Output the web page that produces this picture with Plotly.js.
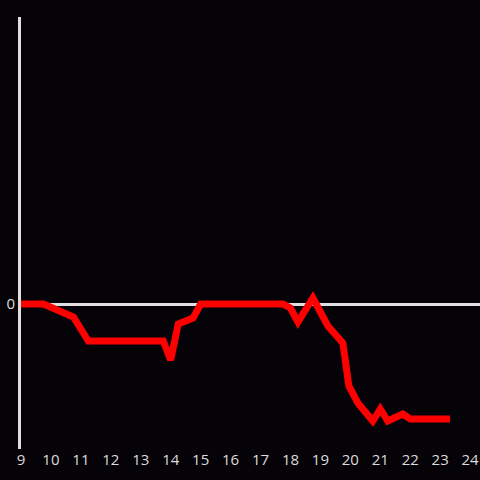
<!DOCTYPE html>
<html><head><meta charset="utf-8">
<script src="https://cdn.plot.ly/plotly-3.0.1.min.js"></script>
<style>html,body{margin:0;padding:0;background:#050307;}#chart{width:480px;height:480px;}</style>
</head><body><div id="chart"></div>
<script>
const hours = [9, 9.75, 10.75, 11.25, 13.75, 14.0, 14.25, 14.75, 15.0, 17.75, 18.0, 18.25, 18.75, 19.25, 19.75, 19.95, 20.25, 20.75, 21.0, 21.25, 21.75, 22.0, 23.33];
const values = [0, 0, -1.3, -3.7, -3.7, -5.6, -2.0, -1.4, 0, 0, -0.4, -1.8, 0.6, -2.2, -3.9, -8.2, -9.9, -11.7, -10.5, -11.7, -11.0, -11.5, -11.5];
const xTicks = [9,10,11,12,13,14,15,16,17,18,19,20,21,22,23,24];

Plotly.newPlot('chart', [{
  x: hours, y: values, type: 'scatter', mode: 'lines',
  line: {color: '#ff0000', width: 7}, hoverinfo: 'skip'
}], {
  width: 480, height: 480,
  paper_bgcolor: '#050307', plot_bgcolor: '#050307',
  margin: {l: 21, r: 0, t: 17, b: 31},
  showlegend: false,
  font: {family: 'Open Sans, sans-serif', size: 15, color: '#dcdcdc'},
  xaxis: {range: [9, 24.33], tickvals: xTicks, ticktext: xTicks.map(String), showgrid: false, zeroline: false, showline: false, ticks: '', tickfont: {size: 15, color: '#dcdcdc'}},
  yaxis: {range: [-14.5, 28.7], tickvals: [0], ticktext: ['0'], showgrid: false, zeroline: true, zerolinecolor: '#e0e0e0', zerolinewidth: 3, showline: true, linecolor: '#e0e0e0', linewidth: 3, ticks: '', tickfont: {size: 15, color: '#dcdcdc'}}
}, {staticPlot: true});
</script></body></html>
